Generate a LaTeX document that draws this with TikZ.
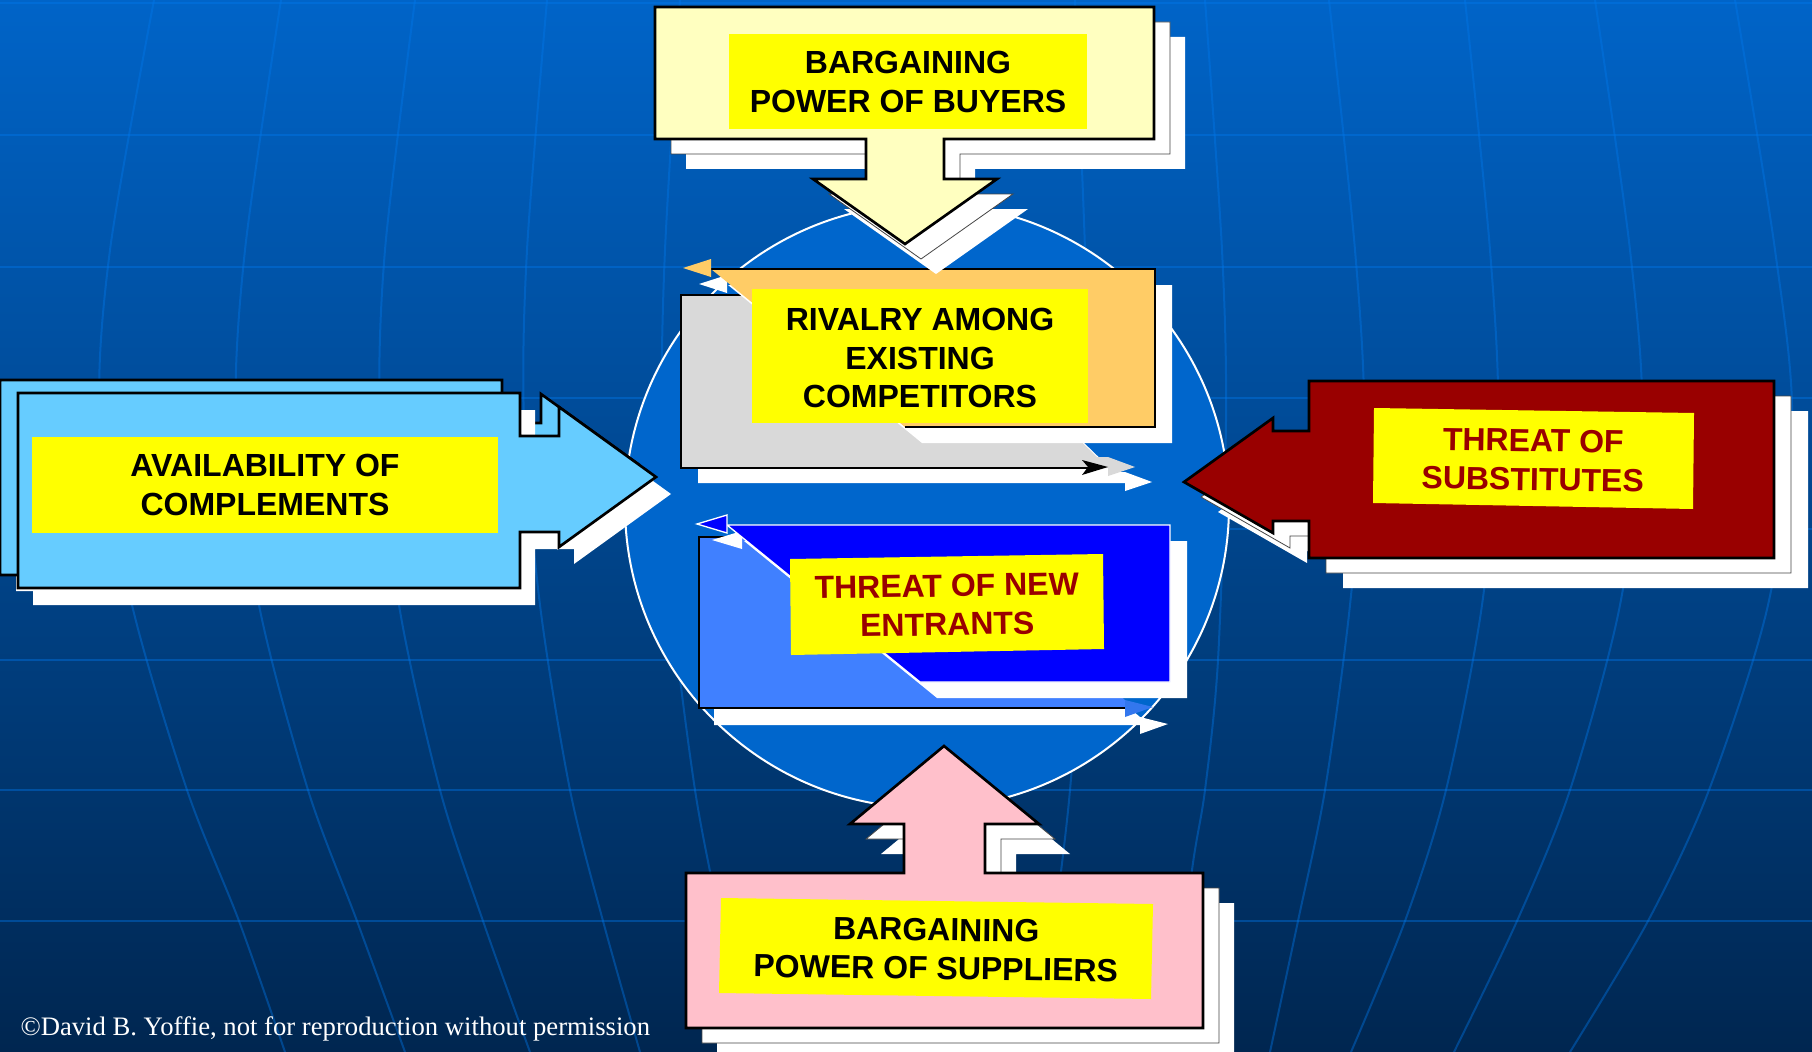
\documentclass[tikz,border=0pt]{standalone}
\usepackage{fontspec}
\setmainfont{Liberation Serif}
\newfontfamily\forcefont{Liberation Sans}

\tikzset{every picture/.style={line width=0.75pt}}
\tikzset{
  forcebox/.style={draw={rgb, 255:red, 0; green, 0; blue, 0 }, line width=2, line join=miter},
  shadowone/.style={fill={rgb, 255:red, 255; green, 255; blue, 255 }, draw={rgb, 255:red, 70; green, 70; blue, 70 }, line width=0.6},
  shadowtwo/.style={fill={rgb, 255:red, 255; green, 255; blue, 255 }, draw=none},
  yellowlbl/.style={fill={rgb, 255:red, 255; green, 255; blue, 0 }, draw=none},
  lbl/.style={font={\forcefont\bfseries\fontsize{24}{29}\selectfont}, align=center, inner sep=0pt, color={rgb, 255:red, 0; green, 0; blue, 0 }},
  redlbl/.style={lbl, color={rgb, 255:red, 153; green, 0; blue, 0 }},
  gridln/.style={draw={rgb, 255:red, 0; green, 120; blue, 235 }, draw opacity=0.4, line width=1.5},
}

% outlines of the five forces, in pixels of the slide
\newcommand\buyersShape{(655,7) -- (1154,7) -- (1154,139) -- (944,139) -- (944,179) -- (997,179) -- (905,244) -- (813,179) -- (866,179) -- (866,139) -- (655,139) -- cycle}
\newcommand\suppliersShape{(686,873) -- (904,873) -- (904,824) -- (850,824) -- (944,746) -- (1039,824) -- (985,824) -- (985,873) -- (1203,873) -- (1203,1028) -- (686,1028) -- cycle}
\newcommand\substShape{(1309,381) -- (1774,381) -- (1774,558) -- (1309,558) -- (1309,521) -- (1273,521) -- (1273,533) -- (1184,482) -- (1273,418) -- (1273,431) -- (1309,431) -- cycle}
\newcommand\complShape{(18,393) -- (520,393) -- (520,436) -- (559,436) -- (559,407) -- (656,477) -- (559,547) -- (559,532) -- (520,532) -- (520,588) -- (18,588) -- cycle}
\newcommand\greyShape{(681,295) -- (930,295) -- (1097,457) -- (1108,457) -- (1135,467) -- (1108,476) -- (1108,468) -- (681,468) -- cycle}
\newcommand\orangeShape{(711,269) -- (1155,269) -- (1155,427) -- (905,427) -- cycle}
\newcommand\orangeTip{(711,259) -- (683,268) -- (711,277) -- cycle}
\newcommand\lightShape{(699,537) -- (930,537) -- (1125,700) -- (1125,708) -- (699,708) -- cycle}
\newcommand\lightTip{(1125,700) -- (1153,707) -- (1125,717) -- cycle}
\newcommand\blueShape{(727,525) -- (1170,525) -- (1170,682) -- (920,682) -- cycle}
\newcommand\blueTip{(727,515) -- (697,524) -- (727,533) -- cycle}

\begin{document}
\begin{tikzpicture}[x=0.75pt,y=0.75pt,yscale=-1,xscale=1]
	\useasboundingbox (0,0) rectangle (1812,1052);
	\clip (0,0) rectangle (1812,1052);

	%Shape: Rectangle [background]
	\shade [top color={rgb, 255:red, 0; green, 100; blue, 200 }, bottom color={rgb, 255:red, 0; green, 38; blue, 80 }] (0,0) rectangle (1812,1052);
	%Straight Lines [grid]
	\foreach \yy in {3,135,267,398,529,660,790,921}
	  \draw [gridln] (0,\yy) -- (1812,\yy);
	%Curve Lines [meridians]
	\draw [gridln] plot [smooth] coordinates {(154,0) (110,250) (100,420) (132,605) (187,790) (239,921) (285,1052)};
	\draw [gridln] plot [smooth] coordinates {(281,0) (245,250) (236,420) (259,605) (308,790) (357,921) (405,1052)};
	\draw [gridln] plot [smooth] coordinates {(415,0) (385,250) (380,420) (399,605) (440,790) (483,921) (530,1052)};
	\draw [gridln] plot [smooth] coordinates {(547,0) (527,250) (524,420) (540,605) (570,790) (603,921) (640,1052)};
	\draw [gridln] plot [smooth] coordinates {(680,0) (665,250) (662,420) (672,605) (695,790) (720,921) (745,1052)};
	\draw [gridln] plot [smooth] coordinates {(1075,0) (1085,250) (1088,420) (1083,605) (1070,790) (1055,921) (1040,1052)};
	\draw [gridln] plot [smooth] coordinates {(1205,0) (1222,250) (1226,420) (1218,660) (1205,790) (1192,870) (1170,1052)};
	\draw [gridln] plot [smooth] coordinates {(1329,0) (1355,250) (1364,420) (1350,605) (1325,790) (1298,921) (1270,1052)};
	\draw [gridln] plot [smooth] coordinates {(1465,0) (1490,250) (1498,420) (1482,605) (1446,790) (1405,921) (1351,1052)};
	\draw [gridln] plot [smooth] coordinates {(1595,0) (1630,250) (1642,420) (1620,605) (1570,790) (1517,921) (1454,1052)};
	\draw [gridln] plot [smooth] coordinates {(1735,0) (1775,250) (1792,420) (1768,605) (1709,790) (1648,921) (1570,1052)};

	%Shape: Circle [market]
	\draw [draw={rgb, 255:red, 255; green, 255; blue, 255 }, fill={rgb, 255:red, 0; green, 102; blue, 204 }, line width=1.5] (927,506) circle [radius=302];

	%Shape: Polygon [rivalry, grey part]
	\draw [shadowtwo, shift={(17,15)}] \greyShape;
	\fill [fill={rgb, 255:red, 217; green, 217; blue, 217 }] \greyShape;
	\draw [forcebox] (930,295) -- (681,295) -- (681,468) -- (1090,468);
	\fill [fill={rgb, 255:red, 0; green, 0; blue, 0 }] (1082,460) -- (1108,467) -- (1082,475) -- (1088,467) -- cycle;
	%Shape: Polygon [rivalry, orange part]
	\draw [shadowtwo, shift={(17,16)}] \orangeShape;
	\draw [shadowtwo, shift={(16,16)}] \orangeTip;
	\fill [fill={rgb, 255:red, 255; green, 204; blue, 102 }] \orangeShape;
	\draw [forcebox] (711,269) -- (1155,269) -- (1155,427) -- (905,427);
	\fill [fill={rgb, 255:red, 255; green, 204; blue, 102 }] \orangeTip;
	\fill [yellowlbl] (752,289) rectangle (1088,423);
	% Text Node
	\draw (920,358) node [lbl] (rivalryTxt) {RIVALRY AMONG\\EXISTING\\COMPETITORS};

	%Shape: Polygon [new entrants, light part]
	\draw [shadowtwo, shift={(15,17)}] \lightShape;
	\draw [shadowtwo, shift={(15,17)}] \lightTip;
	\fill [fill={rgb, 255:red, 64; green, 128; blue, 255 }] \lightShape;
	\fill [fill={rgb, 255:red, 51; green, 119; blue, 238 }] \lightTip;
	\draw [forcebox] (930,537) -- (699,537) -- (699,708) -- (1125,708);
	%Shape: Polygon [new entrants, dark part]
	\draw [shadowtwo, shift={(17,16)}] \blueShape;
	\draw [shadowtwo, shift={(15,16)}] \blueTip;
	\draw [fill={rgb, 255:red, 0; green, 0; blue, 255 }, draw={rgb, 255:red, 255; green, 255; blue, 255 }, line width=1] \blueShape;
	\draw [fill={rgb, 255:red, 0; green, 0; blue, 255 }, draw={rgb, 255:red, 255; green, 255; blue, 255 }, line width=1] \blueTip;
	\fill [yellowlbl] (790,559) -- (1103,554) -- (1104,649) -- (791,655) -- cycle;
	% Text Node
	\draw (947,605) node [redlbl, rotate=0.9] (entrantsTxt) {THREAT OF NEW\\ENTRANTS};

	%Shape: Polygon [buyers]
	\draw [shadowtwo, shift={(31,30)}] \buyersShape;
	\draw [shadowone, shift={(16,15)}] \buyersShape;
	\draw [forcebox, fill={rgb, 255:red, 255; green, 255; blue, 192 }] \buyersShape;
	\fill [yellowlbl] (729,34) rectangle (1087,129);
	% Text Node
	\draw (908,82) node [lbl] (buyersTxt) {BARGAINING\\POWER OF BUYERS};

	%Shape: Polygon [complements]
	\draw [shadowtwo, shift={(-2,3)}] \complShape;
	\draw [forcebox, fill={rgb, 255:red, 102; green, 204; blue, 255 }, shift={(-18,-13)}] \complShape;
	\draw [shadowtwo, shift={(15,17)}] \complShape;
	\draw [forcebox, fill={rgb, 255:red, 102; green, 204; blue, 255 }] \complShape;
	\fill [yellowlbl] (32,437) rectangle (498,533);
	% Text Node
	\draw (265,485) node [lbl] (complementsTxt) {AVAILABILITY OF\\COMPLEMENTS};

	%Shape: Polygon [substitutes]
	\draw [shadowtwo, shift={(34,30)}] \substShape;
	\draw [shadowone, shift={(17,15)}] \substShape;
	\draw [forcebox, fill={rgb, 255:red, 153; green, 0; blue, 0 }] \substShape;
	\fill [yellowlbl] (1374,408) -- (1694,413) -- (1693,509) -- (1373,503) -- cycle;
	% Text Node
	\draw (1533,460) node [redlbl, rotate=-0.9] (substitutesTxt) {THREAT OF\\SUBSTITUTES};

	%Shape: Polygon [suppliers]
	\draw [shadowtwo, shift={(31,30)}] \suppliersShape;
	\draw [shadowone, shift={(16,15)}] \suppliersShape;
	\draw [forcebox, fill={rgb, 255:red, 255; green, 192; blue, 203 }] \suppliersShape;
	\fill [yellowlbl] (721,898) -- (1153,904) -- (1151,999) -- (719,993) -- cycle;
	% Text Node
	\draw (936,949) node [lbl, rotate=-0.8] (suppliersTxt) {BARGAINING\\POWER OF SUPPLIERS};

	% Text Node
	\draw (20,1035) node [anchor=base west, inner sep=0pt, font={\fontsize{20}{24}\selectfont}, color={rgb, 255:red, 255; green, 255; blue, 255 }] (copyrightTxt) {©David B. Yoffie, not for reproduction without permission};

\end{tikzpicture}
\end{document}
